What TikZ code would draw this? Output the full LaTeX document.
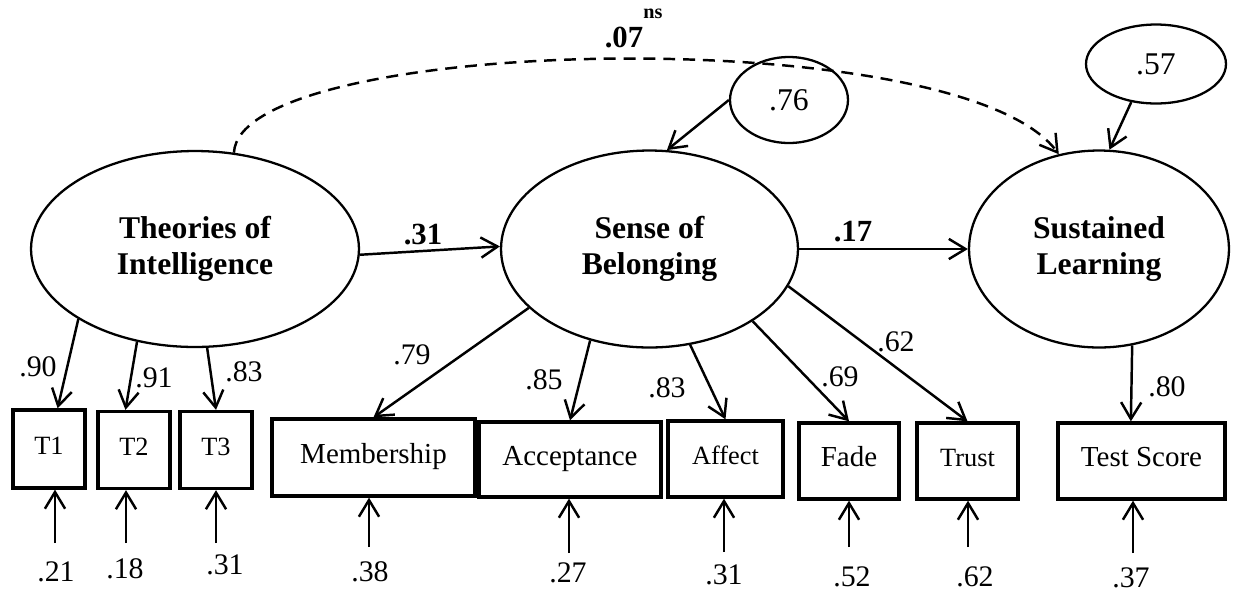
\documentclass[tikz,border=0pt]{standalone}
\usepackage{fontspec}
\setmainfont{Liberation Serif}
\usetikzlibrary{shapes.geometric,arrows.meta,calc}
\begin{document}
\begin{tikzpicture}[x=0.02cm,y=-0.02cm,
 lat/.style={draw,ellipse,line width=1.3pt,inner sep=0pt,align=center,font=\fontsize{18}{20.4}\selectfont\bfseries},
 err/.style={draw,ellipse,line width=1.3pt,inner sep=0pt,font=\fontsize{18}{20}\selectfont},
 obs/.style={draw,rectangle,line width=1.9pt,inner sep=0pt,text height=0.66em,text depth=0pt,font=\fontsize{16.5}{20}\selectfont},
 obss/.style={obs,font=\fontsize{15}{17}\selectfont},
 arr/.style={-{Straight Barb[length=9.5pt,width=11.5pt]},line width=1.4pt},
 num/.style={inner sep=0pt,font=\fontsize{17}{20}\selectfont},
 bnum/.style={inner sep=0pt,font=\fontsize{17.5}{20}\selectfont\bfseries},
]
\useasboundingbox (0,0) rectangle (1235,593);

% latent variables
\node[lat,minimum width=6.56cm,minimum height=3.92cm] (TI) at (195,249) {Theories of\\Intelligence};
\node[lat,minimum width=5.94cm,minimum height=3.94cm] (SB) at (649.5,249) {Sense of\\Belonging};
\node[lat,minimum width=5.2cm,minimum height=3.94cm] (SL) at (1099,249) {Sustained\\Learning};

% disturbances
\node[err,minimum width=2.36cm,minimum height=1.72cm] (E76) at (789,100) {.76};
\node[err,minimum width=2.8cm,minimum height=1.58cm] (E57) at (1156,64) {.57};

% indicators
\node[obss,minimum width=1.44cm,minimum height=1.56cm] (T1) at (49,449) {T1};
\node[obss,minimum width=1.44cm,minimum height=1.54cm] (T2) at (134,450) {T2};
\node[obss,minimum width=1.44cm,minimum height=1.54cm] (T3) at (216,450) {T3};
\node[obs,minimum width=4.06cm,minimum height=1.54cm] (Mem) at (373.5,457.5) {Membership};
\node[obs,minimum width=3.64cm,minimum height=1.5cm] (Acc) at (570,459.5) {Acceptance};
\node[obss,minimum width=2.3cm,minimum height=1.52cm] (Aff) at (725.5,459) {Affect};
\node[obs,minimum width=2.0cm,minimum height=1.52cm] (Fade) at (849,461) {Fade};
\node[obss,minimum width=2.02cm,minimum height=1.52cm] (Trust) at (967.5,461) {Trust};
\node[obs,minimum width=3.34cm,minimum height=1.52cm] (Test) at (1141.5,461) {Test Score};

% structural paths
\draw[arr] (TI.-2) -- (SB.179);
\node[bnum] (l31) at (423,235) {.31};
\draw[arr] (SB.0) -- (SL.180);
\node[bnum] (l17) at (853,232) {.17};
\draw[arr] (E76.west) -- (SB.80);
\draw[arr] (E57.-123) -- (SL.84);
\draw[arr,dash pattern=on 6.8pt off 4.5pt] (TI.68) .. controls (240,35) and (960,20) .. (SL.113);
\node[bnum] (l07) at (624,37) {.07};
\node[inner sep=0pt,font=\fontsize{11.5}{13}\selectfont\bfseries] (ns) at (653,14) {ns};

% loadings
\draw[arr] (TI.-149.4) -- (T1.78);
\node[num] at (38,367) {.90};
\draw[arr] (TI.-122.4) -- (T2.102);
\node[num] at (154,378) {.91};
\draw[arr] (TI.-83.2) -- (T3.north);
\node[num] at (244,372) {.83};
\draw[arr] (SB.-154.3) -- (Mem.north);
\node[num] at (412,355) {.79};
\draw[arr] (SB.-123.2) -- (Acc.north);
\node[num] at (544,380) {.85};
\draw[arr] (SB.-67.3) -- (Aff.north);
\node[num] at (667,388) {.83};
\draw[arr] (SB.-35.1) -- (Fade.north);
\node[num] at (840,377) {.69};
\draw[arr] (SB.-15.8) -- (Trust.north);
\node[num] at (896,342) {.62};
\draw[arr] (SL.-71.4) -- (Test.105);
\node[num] at (1167,387) {.80};

% error terms
\coordinate (c1) at (55,543);
\coordinate (c2) at (126,543);
\coordinate (c3) at (216,543);
\coordinate (c4) at (369,547);
\coordinate (c5) at (569,553);
\coordinate (c6) at (724,552);
\coordinate (c7) at (849,547);
\coordinate (c8) at (968,547);
\coordinate (c9) at (1133,553);
\draw[arr] (c1) -- (c1 |- T1.south);
\draw[arr] (c2) -- (c2 |- T2.south);
\draw[arr] (c3) -- (c3 |- T3.south);
\draw[arr] (c4) -- (c4 |- Mem.south);
\draw[arr] (c5) -- (c5 |- Acc.south);
\draw[arr] (c6) -- (c6 |- Aff.south);
\draw[arr] (c7) -- (c7 |- Fade.south);
\draw[arr] (c8) -- (c8 |- Trust.south);
\draw[arr] (c9) -- (c9 |- Test.south);
\node[num] at (56,572) {.21};
\node[num] at (125,569) {.18};
\node[num] at (225,565) {.31};
\node[num] at (370,572) {.38};
\node[num] at (568,573) {.27};
\node[num] at (724,575) {.31};
\node[num] at (852,577) {.52};
\node[num] at (975,577) {.62};
\node[num] at (1131,578) {.37};
\end{tikzpicture}
\end{document}
